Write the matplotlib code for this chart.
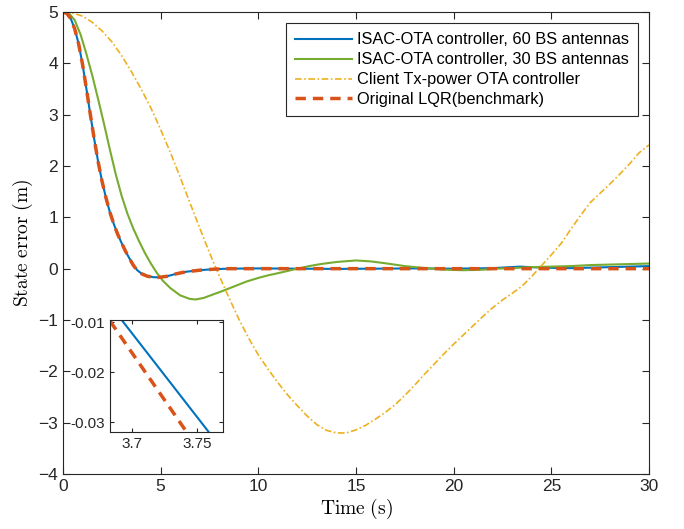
import numpy as np
import matplotlib.pyplot as plt

plt.rcParams['font.family'] = ['Liberation Sans', 'DejaVu Sans']
plt.rcParams['mathtext.fontset'] = 'cm'

# ISAC-OTA controller, 60 BS antennas
t_60 = [0, 0.2, 0.4, 0.6, 0.8, 1.0, 1.2, 1.4, 1.6, 1.8, 2.0, 2.2, 2.4, 2.6, 2.8, 3.0,
        3.2, 3.4, 3.6, 3.8, 4.0, 4.3, 4.6, 4.9, 5.3, 5.8, 6.3, 7.0, 7.7, 8.5, 10, 12,
        14, 16, 18, 20, 22, 23.4, 24.5, 26, 28, 30]
v_60 = [5.0, 4.97, 4.87, 4.67, 4.38, 3.98, 3.5, 3.0, 2.52, 2.08, 1.7, 1.38, 1.1, 0.87,
        0.67, 0.5, 0.34, 0.2, 0.07, -0.03, -0.09, -0.14, -0.165, -0.17, -0.15, -0.1,
        -0.06, -0.03, -0.01, 0.0, 0.005, 0.0, -0.005, 0.0, 0.005, 0.0, 0.01, 0.04,
        0.02, 0.01, 0.03, 0.05]

# ISAC-OTA controller, 30 BS antennas
t_30 = [0, 0.3, 0.6, 0.9, 1.2, 1.5, 1.8, 2.1, 2.4, 2.7, 3.0, 3.3, 3.6, 3.9, 4.2, 4.5,
        4.8, 5.1, 5.5, 6.0, 6.5, 6.8, 7.2, 7.7, 8.2, 8.8, 9.4, 10, 10.5, 11.1, 12,
        12.6, 13.2, 14, 15, 15.8, 16.6, 17.5, 18.3, 19.5, 20.5, 21.5, 22.2, 23, 24,
        25, 26, 27, 28, 29, 30]
v_30 = [5.0, 4.98, 4.84, 4.56, 4.18, 3.76, 3.3, 2.82, 2.32, 1.84, 1.42, 1.07, 0.78,
        0.53, 0.3, 0.1, -0.08, -0.23, -0.38, -0.52, -0.59, -0.6, -0.57, -0.5, -0.43,
        -0.34, -0.25, -0.18, -0.13, -0.08, 0.0, 0.05, 0.09, 0.13, 0.16, 0.14, 0.1,
        0.05, 0.02, -0.02, -0.03, -0.02, 0.0, 0.01, 0.03, 0.04, 0.05, 0.07, 0.08,
        0.09, 0.1]

# Client Tx-power OTA controller
t_cl = [0, 0.5, 1.0, 1.5, 2.0, 2.5, 3.0, 3.5, 4.0, 4.5, 5.0, 5.5, 6.0, 6.5, 7.0, 7.5,
        8.0, 8.5, 9.0, 9.5, 10.0, 10.5, 11.0, 11.5, 12, 12.5, 13, 13.5, 14, 14.5, 15,
        15.5, 16, 16.5, 17, 17.5, 18, 18.5, 19, 19.5, 20, 20.5, 21, 21.5, 22, 22.5,
        23, 23.5, 24, 24.5, 25, 25.5, 26, 26.5, 27, 27.5, 28, 28.5, 29, 29.5, 30]
v_cl = [5.0, 4.98, 4.92, 4.8, 4.63, 4.42, 4.15, 3.84, 3.5, 3.13, 2.71, 2.26, 1.78,
        1.28, 0.79, 0.31, -0.14, -0.57, -0.98, -1.35, -1.68, -1.96, -2.22, -2.46,
        -2.67, -2.87, -3.04, -3.15, -3.2, -3.2, -3.14, -3.05, -2.93, -2.8, -2.65,
        -2.47, -2.27, -2.06, -1.86, -1.66, -1.47, -1.29, -1.11, -0.93, -0.76, -0.61,
        -0.48, -0.34, -0.15, 0.06, 0.27, 0.49, 0.77, 1.04, 1.29, 1.47, 1.65, 1.84,
        2.04, 2.26, 2.41]

# Original LQR (benchmark)
t_lqr = [0, 0.2, 0.4, 0.6, 0.8, 1.0, 1.2, 1.4, 1.6, 1.8, 2.0, 2.2, 2.4, 2.6, 2.8, 3.0,
         3.2, 3.4, 3.6, 3.8, 4.0, 4.3, 4.6, 4.9, 5.3, 5.8, 6.3, 7.0, 7.7, 8.5, 30]
v_lqr = [5.0, 4.97, 4.87, 4.67, 4.38, 3.98, 3.5, 3.0, 2.52, 2.08, 1.7, 1.38, 1.1, 0.87,
         0.67, 0.5, 0.34, 0.2, 0.066, -0.035, -0.095, -0.145, -0.168, -0.17, -0.15,
         -0.1, -0.06, -0.03, -0.01, 0.0, 0.0]

# zoomed inset segments
ins_t_60 = [3.692, 3.759]
ins_v_60 = [-0.0096, -0.032]
ins_t_lqr = [3.683, 3.742]
ins_v_lqr = [-0.0098, -0.032]

c_blue = '#0072BD'
c_green = '#77AC30'
c_yel = '#EDB120'
c_red = '#D95319'

fig = plt.figure(figsize=(6.84, 5.29), dpi=100)
ax = fig.add_axes([63/684, 1-474/529, 586/684, 462/529])

ax.plot(t_60, v_60, color=c_blue, lw=1.5, label='ISAC-OTA controller, 60 BS antennas')
ax.plot(t_30, v_30, color=c_green, lw=1.5, label='ISAC-OTA controller, 30 BS antennas')
ax.plot(t_cl, v_cl, color=c_yel, lw=1.2, linestyle=(0, (4, 1.5, 1, 1.5)),
        label='Client Tx-power OTA controller')
ax.plot(t_lqr, v_lqr, color=c_red, lw=2.5, linestyle=(0, (3, 2)),
        label='Original LQR(benchmark)')

ax.set_xlim(0, 30)
ax.set_ylim(-4, 5)
ax.set_xticks(np.arange(0, 31, 5))
ax.set_yticks(np.arange(-4, 6, 1))
ax.tick_params(direction='in', top=True, right=True, labelsize=12.5, length=5,
               color='#262626', labelcolor='#262626')
for s in ax.spines.values():
    s.set_color('#262626')
    s.set_linewidth(0.8)
ax.set_xlabel(r'$\mathrm{Time\ (s)}$', fontsize=14, labelpad=2)
ax.set_ylabel(r'$\mathrm{State\ error\ (m)}$', fontsize=14, labelpad=2)

leg = ax.legend(loc='upper right', fontsize=11.8, handlelength=3.5, handletextpad=0.25,
                labelspacing=0.3, borderaxespad=0.7, borderpad=0.55,
                fancybox=False, framealpha=1)
leg.get_frame().set_edgecolor('#262626')
leg.get_frame().set_linewidth(0.8)

ins = fig.add_axes([110/684, 1-432/529, 113/684, 112/529])
ins.plot(ins_t_60, ins_v_60, color=c_blue, lw=1.5)
ins.plot(ins_t_lqr, ins_v_lqr, color=c_red, lw=2.5, linestyle=(0, (3, 2)))
ins.set_xlim(3.683, 3.77)
ins.set_ylim(-0.032, -0.0096)
ins.set_xticks([3.7, 3.75])
ins.set_xticklabels(['3.7', '3.75'])
ins.set_yticks([-0.01, -0.02, -0.03])
ins.set_yticklabels(['-0.01', '-0.02', '-0.03'])
ins.tick_params(direction='in', top=True, right=True, labelsize=11, length=3,
                color='#262626', labelcolor='#262626')
for s in ins.spines.values():
    s.set_color('#262626')
    s.set_linewidth(0.8)

fig.savefig('out.png', dpi=100)
